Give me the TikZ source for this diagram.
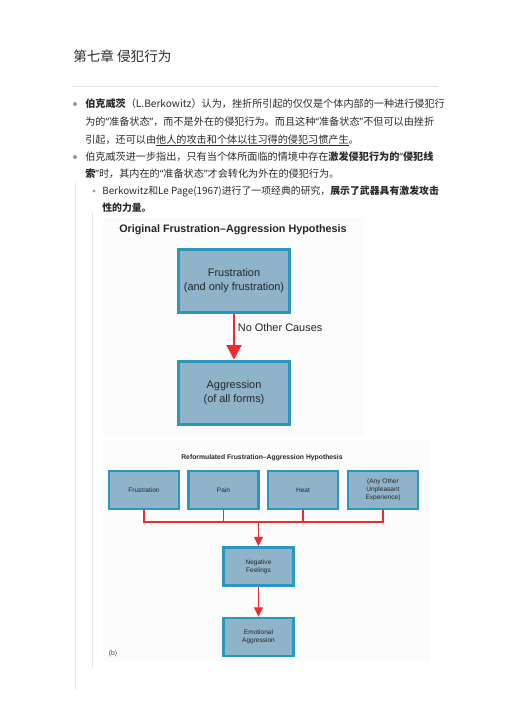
\documentclass[tikz,border=0pt]{standalone}
\usepackage{fontspec}
\setmainfont{Liberation Sans}
\newfontfamily\cjk{Noto Sans CJK SC}
\newfontfamily\qfont{Noto Sans}
\newcommand{\oq}{{\qfont “}}
\newcommand{\cq}{{\qfont ”}}
\usetikzlibrary{positioning, arrows.meta}
\definecolor{boxfill}{HTML}{8FB3C8}
\definecolor{boxedge}{HTML}{2B97C0}
\definecolor{arrowred}{HTML}{EE2B2E}
\definecolor{bodytext}{HTML}{2A2A2A}
\definecolor{rulegray}{HTML}{E2E2E2}

\tikzset{
  bodyline/.style={anchor=base west, inner sep=0pt, text=bodytext, font=\cjk\fontsize{7.6pt}{9pt}\selectfont},
  bigbox/.style={draw=boxedge, line width=2.4pt, fill=boxfill, minimum width=83.5pt, minimum height=47.5pt, align=center, font=\fontsize{8.2pt}{10.6pt}\selectfont, text=black!85},
  smallbox/.style={draw=boxedge, line width=1.8pt, fill=boxfill, minimum width=52.5pt, minimum height=28.5pt, align=center, font=\fontsize{4.9pt}{6pt}\selectfont, text=black!85},
  bigarrow/.style={draw=arrowred, line width=2.2pt, -{Triangle[width=11pt, length=11pt]}},
  smallarrow/.style={draw=arrowred, line width=1.2pt, -{Triangle[width=6.5pt, length=7pt]}},
  joinline/.style={draw=arrowred, line width=1pt},
  dot/.style={circle, fill=gray!80, inner sep=0pt, minimum size=3pt}
}

\begin{document}
\begin{tikzpicture}[x=0.75pt, y=-0.75pt]
  \useasboundingbox (0,0) rectangle (504,713);
  % page furniture
  \node[anchor=base west, inner sep=0pt, text=bodytext, font=\cjk\fontsize{10.2pt}{12pt}\selectfont] (chap) at (73,62) {第七章 侵犯行为};
  \draw[rulegray, line width=0.6pt] (72,86) -- (438,86);
  \draw[rulegray, line width=0.6pt] (75,183) -- (75,690);
  \draw[rulegray, line width=0.6pt] (92,213) -- (92,668);
  % first bullet
  \node[dot] (d1) at (75,104) {};
  \node[bodyline] (l1) at (85,108) {\textbf{伯克威茨}（L.Berkowitz）认为，挫折所引起的仅仅是个体内部的一种进行侵犯行};
  \node[bodyline] (l2) at (85,125.5) {为的\oq 准备状态\cq ，而不是外在的侵犯行为。而且这种\oq 准备状态\cq 不但可以由挫折};
  \node[bodyline] (l3) at (85,143) {引起，还可以由\underline{他人的攻击和个体以往习得的侵犯习惯产生}。};
  % second bullet
  \node[dot] (d2) at (75,157) {};
  \node[bodyline] (l4) at (85,161) {伯克威茨进一步指出，只有当个体所面临的情境中存在\textbf{激发侵犯行为的\oq 侵犯线}};
  \node[bodyline] (l5) at (85,177) {\textbf{索\cq}时，其内在的\oq 准备状态\cq 才会转化为外在的侵犯行为。};
  % sub bullet
  \node[dot, minimum size=2.5pt] (d3) at (94,191) {};
  \node[bodyline, font=\cjk\fontsize{7.4pt}{9pt}\selectfont] (l6) at (102,194.5) {Berkowitz和Le Page(1967)进行了一项经典的研究，\textbf{展示了武器具有激发攻击}};
  \node[bodyline, font=\cjk\fontsize{7.4pt}{9pt}\selectfont] (l7) at (102,211) {\textbf{性的力量。}};
  % figure panels
  \fill[black!1.5] (103,218) rectangle (363,437);
  \fill[black!1] (103,440) rectangle (430,662);
  % original hypothesis
  \node[font=\bfseries\fontsize{8.1pt}{9pt}\selectfont, text=black!85] (title1) at (233,230) {Original Frustration–Aggression Hypothesis};
  \node[bigbox] (frus) at (234,281) {Frustration\\(and only frustration)};
  \node[bigbox] (aggr) at (234,393) {Aggression\\(of all forms)};
  \draw[bigarrow] (frus) -- (aggr) node[pos=0.3, right=1.8pt, inner sep=0pt, font=\fontsize{8.2pt}{9pt}\selectfont, text=black!85] (noc) {No Other Causes};
  % reformulated hypothesis
  \node[font=\bfseries\fontsize{5.1pt}{6pt}\selectfont, text=black!85] (title2) at (262,458) {Reformulated Frustration–Aggression Hypothesis};
  \node[smallbox] (c1) at (144,490) {Frustration};
  \node[smallbox] (c2) at (223.5,490) {Pain};
  \node[smallbox] (c3) at (303,490) {Heat};
  \node[smallbox] (c4) at (383,490) {(Any Other\\Unpleasant\\Experience)};
  \node[smallbox] (neg) at (258.5,566.5) {Negative\\Feelings};
  \node[smallbox] (emo) at (258.5,637) {Emotional\\Aggression};
  \coordinate (hub) at (258.5,522);
  \draw[joinline] (c1.south) |- (hub);
  \draw[joinline] (c2.south) |- (hub);
  \draw[joinline] (c3.south) |- (hub);
  \draw[joinline] (c4.south) |- (hub);
  \draw[smallarrow] (hub) -- (neg);
  \draw[smallarrow] (neg) -- (emo);
  \node[font=\fontsize{5pt}{6pt}\selectfont, text=black!75] (tag) at (113,654) {(b)};
\end{tikzpicture}
\end{document}
